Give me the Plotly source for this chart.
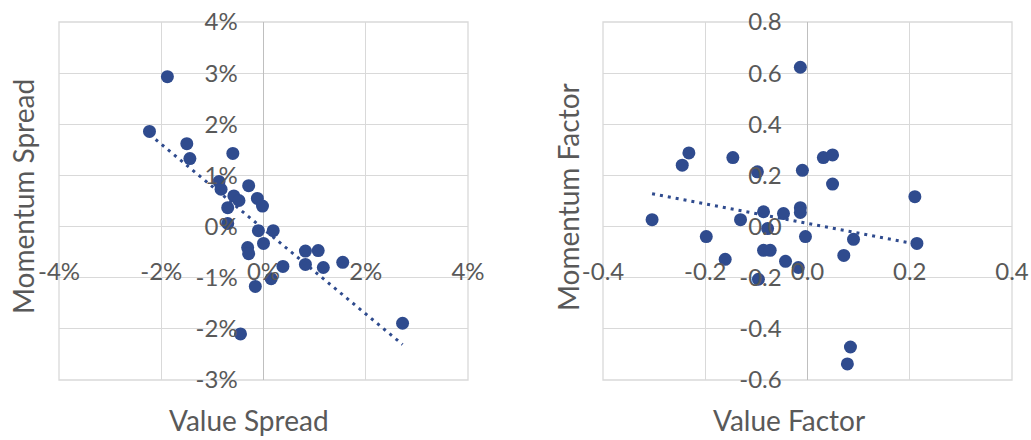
import numpy as np
import plotly.graph_objects as go

# Left panel: spreads (in %)
value_spread = [-1.88, -2.23, -1.50, -1.44, -0.60, -0.87, -0.83, -0.29, -0.58, -0.48,
                -0.12, -0.02, -0.70, -0.70, -0.10, 0.19, 0.00, -0.31, -0.29, 0.38,
                0.82, 1.07, 0.82, 1.17, 1.55, 0.15, -0.16, -0.45, 2.72]
momentum_spread = [2.93, 1.86, 1.62, 1.33, 1.43, 0.88, 0.73, 0.80, 0.60, 0.51,
                   0.55, 0.40, 0.37, 0.06, -0.08, -0.08, -0.33, -0.41, -0.53, -0.78,
                   -0.48, -0.47, -0.74, -0.80, -0.70, -1.02, -1.17, -2.10, -1.89]

# Right panel: factors
value_factor = [-0.014, -0.232, -0.245, -0.146, -0.098, -0.010, 0.031, 0.049, 0.049, 0.210,
                -0.304, -0.131, -0.086, -0.047, -0.014, -0.014, -0.078, -0.198, -0.004, 0.090,
                0.214, -0.086, -0.073, -0.161, -0.043, -0.018, 0.071, -0.096, 0.084, 0.078]
momentum_factor = [0.623, 0.288, 0.240, 0.270, 0.214, 0.220, 0.270, 0.280, 0.166, 0.117,
                   0.027, 0.027, 0.058, 0.051, 0.074, 0.055, -0.008, -0.039, -0.039, -0.050,
                   -0.066, -0.093, -0.093, -0.128, -0.136, -0.160, -0.113, -0.206, -0.471, -0.537]

left_xticks = [-4, -2, 0, 2, 4]
left_yticks = [-3, -2, -1, 0, 1, 2, 3, 4]
right_xticks = [-0.4, -0.2, 0.0, 0.2, 0.4]
right_yticks = [-0.6, -0.4, -0.2, 0.0, 0.2, 0.4, 0.6, 0.8]

BLUE = "#2F4B8E"
GRID = "#D9D9D9"
TXT = "#595959"
FONT = "Lato"
TICK_SIZE = 24
TITLE_SIZE = 28

W, H = 1031, 440
left_dom = [59 / W, 468 / W]
right_dom = [603 / W, 1012 / W]
y_dom = [1 - 380 / H, 1 - 22 / H]


def trend(x, y):
    x = np.asarray(x)
    k, b = np.polyfit(x, np.asarray(y), 1)
    xs = np.array([x.min(), x.max()])
    return xs, k * xs + b


fig = go.Figure()
fig.add_trace(go.Scatter(x=value_spread, y=momentum_spread, mode="markers",
                         marker=dict(color=BLUE, size=13), xaxis="x", yaxis="y"))
tx, ty = trend(value_spread, momentum_spread)
fig.add_trace(go.Scatter(x=tx, y=ty, mode="lines",
                         line=dict(color=BLUE, width=3, dash="3px,5px"), xaxis="x", yaxis="y"))
fig.add_trace(go.Scatter(x=value_factor, y=momentum_factor, mode="markers",
                         marker=dict(color=BLUE, size=13), xaxis="x2", yaxis="y2"))
tx, ty = trend(value_factor, momentum_factor)
fig.add_trace(go.Scatter(x=tx, y=ty, mode="lines",
                         line=dict(color=BLUE, width=3, dash="3px,5px"), xaxis="x2", yaxis="y2"))


def cross_pos(dom, rng):
    return dom[0] + (0 - rng[0]) / (rng[1] - rng[0]) * (dom[1] - dom[0])


def axis_pair(xdom, xr, xt, xtxt, yr, yt, ytxt):
    xa = dict(domain=xdom, range=xr, tickvals=xt, ticktext=xtxt, automargin=False,
              showgrid=True, gridcolor=GRID, gridwidth=1.3,
              zeroline=True, zerolinecolor="#BFBFBF", zerolinewidth=1.3,
              showline=False, ticks="outside", ticklen=24, tickcolor="rgba(0,0,0,0)",
              tickfont=dict(family=FONT, size=TICK_SIZE, color=TXT),
              ticklabeloverflow="allow",
              anchor="free", position=cross_pos(y_dom, yr), fixedrange=True)
    ya = dict(domain=y_dom, range=yr, tickvals=yt, ticktext=ytxt, automargin=False,
              showgrid=True, gridcolor=GRID, gridwidth=1.3,
              zeroline=True, zerolinecolor=GRID, zerolinewidth=1.3,
              showline=False, ticks="outside", ticklen=21, tickcolor="rgba(0,0,0,0)",
              tickfont=dict(family=FONT, size=TICK_SIZE, color=TXT),
              ticklabeloverflow="allow",
              anchor="free", position=cross_pos(xdom, xr), fixedrange=True)
    return xa, ya


xa1, ya1 = axis_pair(left_dom, [-4, 4], left_xticks, [f"{v}%" for v in left_xticks],
                     [-3, 4], left_yticks, [f"{v}%" for v in left_yticks])
xa2, ya2 = axis_pair(right_dom, [-0.4, 0.4], right_xticks, [f"{v:.1f}" for v in right_xticks],
                     [-0.6, 0.8], right_yticks, [f"{v:.1f}" for v in right_yticks])


def title(text, x, y, angle=0):
    return dict(text=text, x=x / W, y=1 - y / H, xref="paper", yref="paper",
                xanchor="center", yanchor="middle", showarrow=False, textangle=angle,
                font=dict(family=FONT, size=TITLE_SIZE, color=TXT))


def frame(xa, ya):
    return dict(type="rect", xref=f"{xa} domain", yref=f"{ya} domain",
                x0=0, x1=1, y0=0, y1=1, line=dict(color=GRID, width=1.3), layer="below")


fig.update_layout(
    width=W, height=H, margin=dict(l=0, r=0, t=0, b=0, autoexpand=False),
    paper_bgcolor="white", plot_bgcolor="white", showlegend=False,
    xaxis=xa1, yaxis=ya1, xaxis2=xa2, yaxis2=ya2,
    shapes=[frame("x", "y"), frame("x2", "y2")],
    annotations=[
        title("Value Spread", 249, 420),
        title("Momentum Spread", 23, 197, -90),
        title("Value Factor", 789, 420),
        title("Momentum Factor", 568, 197, -90),
    ],
)

fig.write_html("out.html", config=dict(displayModeBar=False))
